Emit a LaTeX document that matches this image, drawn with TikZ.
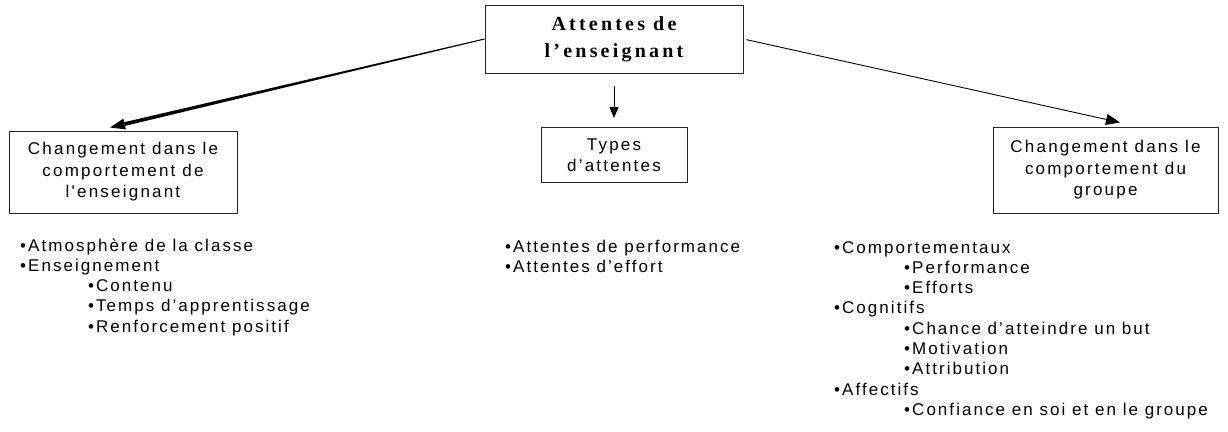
\documentclass[tikz,border=0pt]{standalone}
\usepackage{fontspec}
\setmainfont{Liberation Sans}
\newfontfamily\bodyfont{Liberation Sans}[LetterSpace=12]
\newfontfamily\boxfont{Liberation Sans}[LetterSpace=13]
\newfontfamily\headfont{Liberation Serif}[LetterSpace=16]
\usetikzlibrary{arrows.meta,calc}
\begin{document}
\begin{tikzpicture}[x=1pt,y=-1pt,
  box/.style={draw=black!85,line width=1pt,inner sep=0pt,align=center,
    font=\boxfont\fontsize{17}{21.5}\selectfont},
  item/.style={anchor=base west,inner sep=0pt,font=\bodyfont\fontsize{17}{18}\selectfont},
  conn/.style={line width=0.9pt,draw=black},
  head/.style={-{Triangle[length=14pt,width=11pt]}}]
\useasboundingbox[fill=white] (0,0) rectangle (1228,431);

\node[box,minimum width=258pt,minimum height=68pt,
  font=\headfont\bfseries\fontsize{20}{27}\selectfont] (top) at (614,39)
  {Attentes de\\l’enseignant\rule[-4pt]{0pt}{4pt}};
\node[box,minimum width=228pt,minimum height=82pt] (left) at (123,172)
  {Changement dans le\\comportement de\\l'enseignant};
\node[box,minimum width=146pt,minimum height=55pt] (types) at (614,155)
  {Types\\d’attentes};
\node[box,minimum width=225pt,minimum height=86pt] (right) at (1105.5,170)
  {Changement dans le\\comportement du\\groupe};

% connectors
\coordinate (ls) at (top.west);
\coordinate (lt) at ($(left.north)+(-13,-3)$);
\coordinate (lb) at ($(lt)!15pt!(ls)$);
\fill[black] ($(ls)!0.5pt!90:(lt)$) -- ($(lb)!1.9pt!90:(lt)$) -- ($(lb)!5.5pt!90:(lt)$)
  -- (lt) -- ($(lb)!5.5pt!-90:(lt)$) -- ($(lb)!1.9pt!-90:(lt)$)
  -- ($(ls)!0.5pt!-90:(lt)$) -- cycle;
\coordinate (rt) at ($(right.north)+(14.5,-4)$);
\draw[conn,head,shorten <=3pt] (top.east) -- (rt);
\draw[conn,-{Triangle[length=11pt,width=9pt]},shorten <=12pt,shorten >=9pt]
  (top.south) -- (types.north);

% left list
\node[item] (l1) at (20,251) {•Atmosphère de la classe};
\node[item] (l2) at (20,271.3) {•Enseignement};
\node[item] (l3) at (88,291.6) {•Contenu};
\node[item] (l4) at (88,311.9) {•Temps d’apprentissage};
\node[item] (l5) at (88,332.2) {•Renforcement positif};

% middle list
\node[item] (m1) at (505,252) {•Attentes de performance};
\node[item] (m2) at (505,272.3) {•Attentes d’effort};

% right list
\node[item] (r1) at (834,253) {•Comportementaux};
\node[item] (r2) at (904,273.3) {•Performance};
\node[item] (r3) at (904,293.6) {•Efforts};
\node[item] (r4) at (834,313.9) {•Cognitifs};
\node[item] (r5) at (904,334.2) {•Chance d’atteindre un but};
\node[item] (r6) at (904,354.5) {•Motivation};
\node[item] (r7) at (904,374.8) {•Attribution};
\node[item] (r8) at (834,395.1) {•Affectifs};
\node[item] (r9) at (904,415.4) {•Confiance en soi et en le groupe};
\end{tikzpicture}
\end{document}
